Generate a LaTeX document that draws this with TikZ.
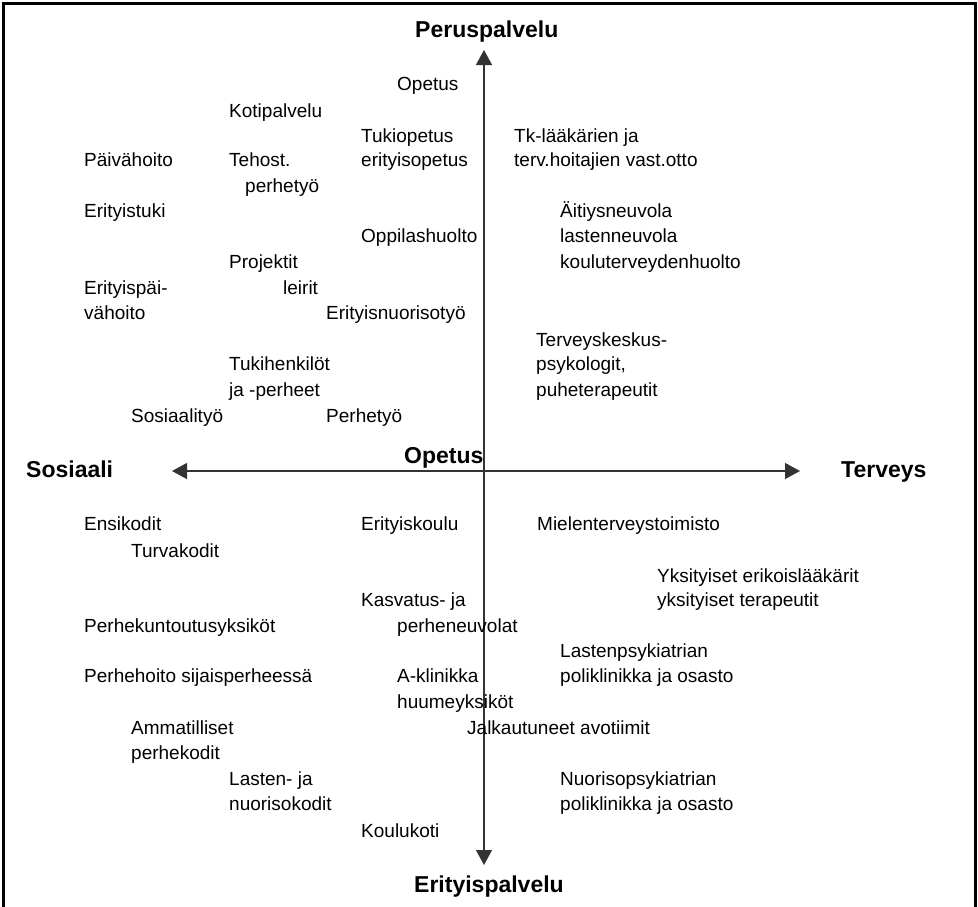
\documentclass[tikz,border=0pt]{standalone}
\usepackage{fontspec}
\setmainfont{Liberation Sans}
\usetikzlibrary{arrows.meta}
\begin{document}
\begin{tikzpicture}[x=1pt,y=-1pt,
  lbl/.style={anchor=base west,inner sep=0pt,font=\fontsize{19}{23}\selectfont,text=black},
  axlbl/.style={anchor=base west,inner sep=0pt,font=\fontsize{23}{27}\selectfont\bfseries,text=black},
  axis/.style={line width=1.3pt,draw=black!80,fill=black,{Triangle[length=15pt,width=16pt]}-{Triangle[length=15pt,width=16pt]}},
  frame/.style={line width=3pt,draw=black}]
\useasboundingbox (0,0) rectangle (978,906);
% frame
\draw[frame] (3.5,915) -- (3.5,3.5) -- (975.5,3.5) -- (975.5,915);
% axes
\coordinate (top) at (484,50);
\coordinate (bot) at (484,865);
\coordinate (lft) at (172,471);
\coordinate (rgt) at (800,471);
\draw[axis] (bot) -- (top);
\draw[axis] (lft) -- (rgt);
% axis labels
\node[axlbl] (peru) at (415,37) {Peruspalvelu};
\node[axlbl] (eritp) at (414,892) {Erityispalvelu};
\node[axlbl] (sos) at (26,477) {Sosiaali};
\node[axlbl] (terv) at (841,477) {Terveys};
\node[axlbl] (opb) at (404,463) {Opetus};
% upper left
\node[lbl] (a1) at (397,90) {Opetus};
\node[lbl] (a2) at (229,117) {Kotipalvelu};
\node[lbl] (a3) at (361,142) {Tukiopetus};
\node[lbl] (a4) at (361,166) {erityisopetus};
\node[lbl] (a5) at (84,166) {Päivähoito};
\node[lbl] (a6) at (229,166) {Tehost.};
\node[lbl] (a7) at (245,192) {perhetyö};
\node[lbl] (a8) at (84,217) {Erityistuki};
\node[lbl] (a9) at (361,242) {Oppilashuolto};
\node[lbl] (a10) at (229,268) {Projektit};
\node[lbl] (a11) at (84,294) {Erityispäi-};
\node[lbl] (a12) at (283,294) {leirit};
\node[lbl] (a13) at (84,319) {vähoito};
\node[lbl] (a14) at (326,319) {Erityisnuorisotyö};
\node[lbl] (a15) at (229,370) {Tukihenkilöt};
\node[lbl] (a16) at (229,396) {ja -perheet};
\node[lbl] (a17) at (131,422) {Sosiaalityö};
\node[lbl] (a18) at (326,422) {Perhetyö};
% upper right
\node[lbl] (b1) at (514,142) {Tk-lääkärien ja};
\node[lbl] (b2) at (514,166) {terv.hoitajien vast.otto};
\node[lbl] (b3) at (560,217) {Äitiysneuvola};
\node[lbl] (b4) at (560,242) {lastenneuvola};
\node[lbl] (b5) at (560,268) {kouluterveydenhuolto};
\node[lbl] (b6) at (536,346) {Terveyskeskus-};
\node[lbl] (b7) at (536,370) {psykologit,};
\node[lbl] (b8) at (536,396) {puheterapeutit};
% lower left
\node[lbl] (c1) at (84,530) {Ensikodit};
\node[lbl] (c2) at (361,530) {Erityiskoulu};
\node[lbl] (c3) at (131,557) {Turvakodit};
\node[lbl] (c4) at (361,606) {Kasvatus- ja};
\node[lbl] (c5) at (84,632) {Perhekuntoutusyksiköt};
\node[lbl] (c6) at (397,632) {perheneuvolat};
\node[lbl] (c7) at (84,682) {Perhehoito sijaisperheessä};
\node[lbl] (c8) at (397,682) {A-klinikka};
\node[lbl] (c9) at (397,708) {huumeyksiköt};
\node[lbl] (c10) at (131,734) {Ammatilliset};
\node[lbl] (c11) at (467,734) {Jalkautuneet avotiimit};
\node[lbl] (c12) at (131,759) {perhekodit};
\node[lbl] (c13) at (229,785) {Lasten- ja};
\node[lbl] (c14) at (229,810) {nuorisokodit};
\node[lbl] (c15) at (361,837) {Koulukoti};
% lower right
\node[lbl] (d1) at (537,530) {Mielenterveystoimisto};
\node[lbl] (d2) at (657,582) {Yksityiset erikoislääkärit};
\node[lbl] (d3) at (657,606) {yksityiset terapeutit};
\node[lbl] (d4) at (560,657) {Lastenpsykiatrian};
\node[lbl] (d5) at (560,682) {poliklinikka ja osasto};
\node[lbl] (d6) at (560,785) {Nuorisopsykiatrian};
\node[lbl] (d7) at (560,810) {poliklinikka ja osasto};
\end{tikzpicture}
\end{document}
